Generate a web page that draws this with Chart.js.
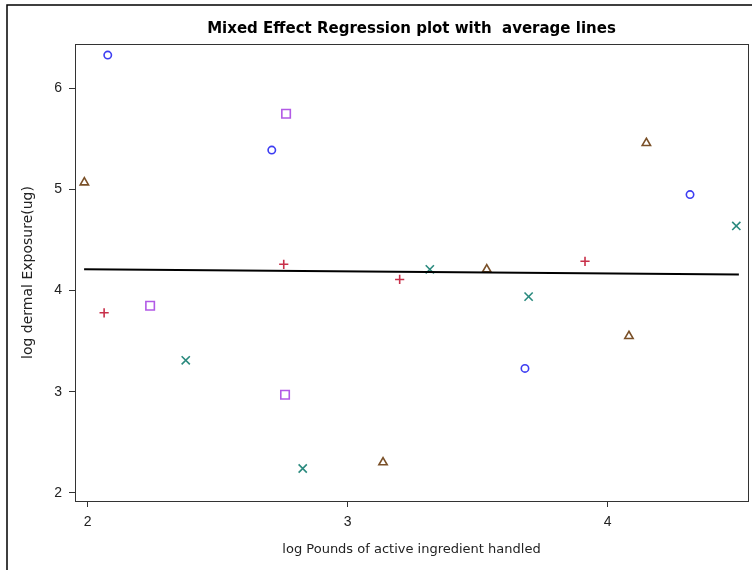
<!DOCTYPE html>
<html>
<head>
<meta charset="utf-8">
<script src="https://cdn.jsdelivr.net/npm/chart.js@4"></script>
<style>
  html, body { margin: 0; padding: 0; background: #fff; }
</style>
</head>
<body>
<canvas id="mixed_chart" width="752" height="570"></canvas>
<script>
// points, one group per marker
var circleX = [2.077, 2.708, 3.682, 4.317];
var circleY = [6.33, 5.39, 3.23, 4.95];
var squareX = [2.24, 2.759, 2.763];
var squareY = [3.85, 2.97, 5.75];
var triX = [1.987, 3.136, 3.535, 4.082, 4.149];
var triY = [5.07, 2.30, 4.21, 3.55, 5.46];
var plusX = [2.063, 2.754, 3.20, 3.913];
var plusY = [3.78, 4.26, 4.11, 4.29];
var crossX = [2.377, 2.827, 3.316, 3.696, 4.495];
var crossY = [3.31, 2.24, 4.21, 3.94, 4.64];
// average line ends
var lineX = [1.986, 4.505];
var lineY = [4.21, 4.16];

var xTicks = [2, 3, 4];
var yTicks = [2, 3, 4, 5, 6];

function pts(xs, ys) {
    var out = [];
    for (var i = 0; i < xs.length; i++) out.push({ x: xs[i], y: ys[i] });
    return out;
}

function marker(label, xs, ys, style, color, radius) {
    return {
        label: label,
        data: pts(xs, ys),
        pointStyle: style,
        pointRadius: radius,
        pointBorderWidth: 1.6,
        borderColor: color,
        backgroundColor: 'rgba(0,0,0,0)',
        showLine: false
    };
}

// outer frame + closing box round the plot area
var frames = {
    id: 'frames',
    afterDraw: function(chart) {
        var ctx = chart.ctx, a = chart.chartArea;
        ctx.save();
        ctx.strokeStyle = '#000';
        ctx.lineWidth = 1.5;
        ctx.strokeRect(7, 5, 900, 900);
        ctx.strokeStyle = '#333';
        ctx.lineWidth = 1;
        ctx.strokeRect(Math.round(a.left) + 0.5, Math.round(a.top) + 0.5,
            Math.round(a.right - a.left), Math.round(a.bottom - a.top));
        ctx.restore();
    }
};

new Chart(document.getElementById('mixed_chart'), {
    type: 'scatter',
    data: {
        datasets: [
            {
                label: 'average',
                data: pts(lineX, lineY),
                showLine: true,
                borderColor: '#000',
                borderWidth: 2,
                pointRadius: 0
            },
            marker('1', circleX, circleY, 'circle', '#3d3df2', 3.7),
            marker('2', squareX, squareY, 'rect', '#b25ae6', 6),
            marker('3', triX, triY, 'triangle', '#7a5028', 4.8),
            marker('4', plusX, plusY, 'cross', '#c8304a', 4.6),
            marker('5', crossX, crossY, 'crossRot', '#2a8a7e', 5.8)
        ]
    },
    options: {
        responsive: false,
        animation: false,
        layout: { autoPadding: false, padding: { left: 0, right: 4, top: 0, bottom: 0 } },
        plugins: {
            legend: { display: false },
            tooltip: { enabled: false },
            title: {
                display: true,
                fullSize: false,
                text: 'Mixed Effect Regression plot with  average lines',
                color: '#000',
                font: { family: 'DejaVu Sans', size: 15, weight: 'bold', lineHeight: 1.2 },
                padding: { top: 20, bottom: 6 }
            }
        },
        scales: {
            x: {
                type: 'linear',
                min: 1.951,
                max: 4.54,
                afterBuildTicks: function(s) { s.ticks = xTicks.map(function(v) { return { value: v }; }); },
                afterFit: function(s) { s.height = 69; s.paddingLeft = 0; s.paddingRight = 0; },
                grid: { drawOnChartArea: false, drawTicks: true, tickLength: 6, color: '#333' },
                border: { display: true, color: '#333', width: 1 },
                ticks: { color: '#222', padding: 7, font: { family: 'Liberation Sans, Arial', size: 14 } },
                title: {
                    display: true,
                    text: 'log Pounds of active ingredient handled',
                    color: '#222',
                    font: { family: 'DejaVu Sans', size: 13, lineHeight: 1.2 },
                    padding: { top: 0, bottom: 13 }
                }
            },
            y: {
                type: 'linear',
                min: 1.918,
                max: 6.44,
                afterBuildTicks: function(s) { s.ticks = yTicks.map(function(v) { return { value: v }; }); },
                afterFit: function(s) { s.width = 75; s.paddingTop = 0; s.paddingBottom = 0; },
                grid: { drawOnChartArea: false, drawTicks: true, tickLength: 6, color: '#333' },
                border: { display: true, color: '#333', width: 1 },
                ticks: { color: '#222', padding: 7, font: { family: 'Liberation Sans, Arial', size: 14 } },
                title: {
                    display: true,
                    text: 'log dermal Exposure(ug)',
                    color: '#222',
                    font: { family: 'DejaVu Sans', size: 14, lineHeight: 1.2 },
                    padding: { top: 20, bottom: 0 }
                }
            }
        }
    },
    plugins: [frames]
});
</script>
</body>
</html>
